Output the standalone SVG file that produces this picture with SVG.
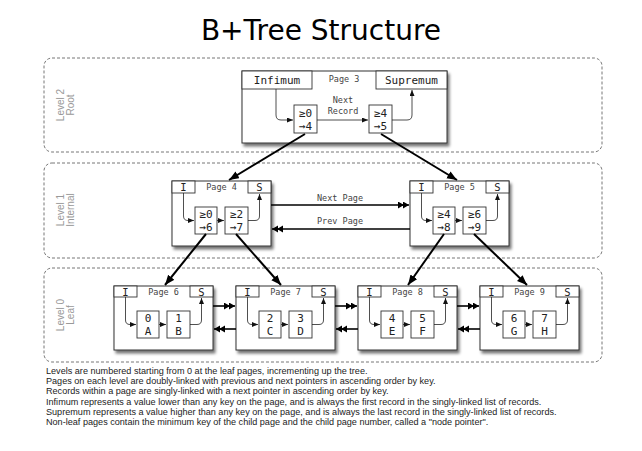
<svg xmlns="http://www.w3.org/2000/svg" width="642" height="451" viewBox="0 0 642 451">
<style>
.lvl{fill:none;stroke:#666;stroke-width:0.9;stroke-dasharray:3,2}
.lvlt{font-family:"Liberation Sans",Arial,sans-serif;font-size:10px;fill:#999;text-anchor:middle}
.pg{fill:#fff;stroke:#333;stroke-width:1}
.cell{fill:#fff;stroke:#333;stroke-width:0.9}
.mono{font-family:"DejaVu Sans Mono","Liberation Mono",monospace;fill:#222;text-anchor:middle}
.hd{font-size:10.5px}
.pt{font-size:8.5px;fill:#444}
.rt{font-size:11px}
.thin{fill:none;stroke:#222;stroke-width:0.8}
.big{fill:none;stroke:#000;stroke-width:2}
.lnk{fill:none;stroke:#000;stroke-width:1.6}
.note{font-family:"Liberation Sans",Arial,sans-serif;font-size:9.1px;fill:#222}
</style>
<defs>
<filter id="sh" x="-10%" y="-10%" width="130%" height="140%">
<feGaussianBlur in="SourceAlpha" stdDeviation="1.6"/>
<feOffset dx="1.5" dy="2.5" result="b"/>
<feComponentTransfer><feFuncA type="linear" slope="0.55"/></feComponentTransfer>
<feMerge><feMergeNode/><feMergeNode in="SourceGraphic"/></feMerge>
</filter>
<marker id="ab" markerUnits="userSpaceOnUse" markerWidth="11" markerHeight="9" refX="10" refY="4" orient="auto"><path d="M0,0 L10,4 L0,8 z" fill="#000"/></marker>
<marker id="as" markerUnits="userSpaceOnUse" markerWidth="7" markerHeight="6" refX="6" refY="2.5" orient="auto"><path d="M0,0 L6,2.5 L0,5 z" fill="#111"/></marker>
<marker id="ad" markerUnits="userSpaceOnUse" markerWidth="12" markerHeight="8" refX="11" refY="3.5" orient="auto"><path d="M0,0 L6,3.5 L0,7 z M5,0 L11,3.5 L5,7 z" fill="#000"/></marker>
</defs>
<rect width="642" height="451" fill="#fff"/>
<text x="321" y="40" font-family="'DejaVu Sans',sans-serif" font-size="28" text-anchor="middle" fill="#000">B+Tree Structure</text>

<g id="level2">
<rect class="lvl" x="44" y="58" width="558" height="94" rx="8"/>
<text class="lvlt" transform="translate(64,105) rotate(-90)"><tspan x="0" y="0">Level 2</tspan><tspan x="0" y="9.5">Root</tspan></text>
</g>
<g id="level1">
<rect class="lvl" x="44" y="163" width="558" height="95" rx="8"/>
<text class="lvlt" transform="translate(64,210) rotate(-90)"><tspan x="0" y="0">Level 1</tspan><tspan x="0" y="9.5">Internal</tspan></text>
</g>
<g id="level0">
<rect class="lvl" x="44" y="268" width="558" height="94" rx="8"/>
<text class="lvlt" transform="translate(64,315) rotate(-90)"><tspan x="0" y="0">Level 0</tspan><tspan x="0" y="9.5">Leaf</tspan></text>
</g>

<g id="page3">
<rect class="pg" x="242" y="71" width="205" height="72" filter="url(#sh)"/>
<rect class="cell" x="242" y="71" width="70" height="18"/>
<rect class="cell" x="376" y="71" width="71" height="18"/>
<text class="mono" x="277" y="84" font-size="11">Infimum</text>
<text class="mono" x="411.5" y="84" font-size="11">Supremum</text>
<text class="mono pt" x="344" y="82">Page 3</text>
<text class="mono pt" x="343" y="103">Next</text>
<text class="mono pt" x="343" y="114">Record</text>
<rect class="cell" x="294" y="105" width="23" height="28"/>
<rect class="cell" x="369" y="105" width="23" height="28"/>
<text class="mono rt" x="305.5" y="117">≥0</text>
<text class="mono rt" x="305.5" y="130">→4</text>
<text class="mono rt" x="380.5" y="117">≥4</text>
<text class="mono rt" x="380.5" y="130">→5</text>
<path class="thin" d="M276,89 V115 Q276,120 281,120 H293" marker-end="url(#as)"/>
<path class="thin" d="M317,120 H368" marker-end="url(#as)"/>
<path class="thin" d="M392,120 H407 Q412,120 412,115 V90" marker-end="url(#as)"/>
</g>

<g id="page4">
<rect class="pg" x="172" y="181" width="99" height="65" filter="url(#sh)"/>
<rect class="cell" x="172" y="181" width="23" height="12"/>
<rect class="cell" x="248" y="181" width="23" height="12"/>
<text class="mono hd" x="183.5" y="191">I</text>
<text class="mono hd" x="259.5" y="191">S</text>
<text class="mono pt" x="221.5" y="190">Page 4</text>
<rect class="cell" x="195" y="207" width="22" height="27"/>
<rect class="cell" x="225" y="207" width="23" height="27"/>
<text class="mono rt" x="206" y="218">≥0</text>
<text class="mono rt" x="206" y="231">→6</text>
<text class="mono rt" x="236.5" y="218">≥2</text>
<text class="mono rt" x="236.5" y="231">→7</text>
<path class="thin" d="M183.5,193 V216 Q183.5,220.5 188,220.5 H194" marker-end="url(#as)"/>
<path class="thin" d="M217,220.5 H224" marker-end="url(#as)"/>
<path class="thin" d="M248,220.5 H255 Q259.5,220.5 259.5,216 V194" marker-end="url(#as)"/>
</g>

<g id="page5">
<rect class="pg" x="410" y="181" width="99" height="65" filter="url(#sh)"/>
<rect class="cell" x="410" y="181" width="23" height="12"/>
<rect class="cell" x="486" y="181" width="23" height="12"/>
<text class="mono hd" x="421.5" y="191">I</text>
<text class="mono hd" x="497.5" y="191">S</text>
<text class="mono pt" x="459.5" y="190">Page 5</text>
<rect class="cell" x="433" y="207" width="22" height="27"/>
<rect class="cell" x="463" y="207" width="23" height="27"/>
<text class="mono rt" x="444" y="218">≥4</text>
<text class="mono rt" x="444" y="231">→8</text>
<text class="mono rt" x="474.5" y="218">≥6</text>
<text class="mono rt" x="474.5" y="231">→9</text>
<path class="thin" d="M421.5,193 V216 Q421.5,220.5 426,220.5 H432" marker-end="url(#as)"/>
<path class="thin" d="M455,220.5 H462" marker-end="url(#as)"/>
<path class="thin" d="M486,220.5 H493 Q497.5,220.5 497.5,216 V194" marker-end="url(#as)"/>
</g>

<g id="page6">
<rect class="pg" x="114" y="286" width="99" height="64" filter="url(#sh)"/>
<rect class="cell" x="114" y="286" width="23" height="11"/>
<rect class="cell" x="190" y="286" width="23" height="11"/>
<text class="mono hd" x="125.5" y="295.5">I</text>
<text class="mono hd" x="201.5" y="295.5">S</text>
<text class="mono pt" x="163.5" y="295">Page 6</text>
<rect class="cell" x="137" y="311" width="22" height="27"/>
<rect class="cell" x="167" y="311" width="23" height="27"/>
<text class="mono rt" x="148" y="322">0</text>
<text class="mono rt" x="148" y="335">A</text>
<text class="mono rt" x="178.5" y="322">1</text>
<text class="mono rt" x="178.5" y="335">B</text>
<path class="thin" d="M125.5,297 V320 Q125.5,324.5 130,324.5 H136" marker-end="url(#as)"/>
<path class="thin" d="M159,324.5 H166" marker-end="url(#as)"/>
<path class="thin" d="M190,324.5 H197 Q201.5,324.5 201.5,320 V298" marker-end="url(#as)"/>
</g>

<g id="page7">
<rect class="pg" x="236" y="286" width="99" height="64" filter="url(#sh)"/>
<rect class="cell" x="236" y="286" width="23" height="11"/>
<rect class="cell" x="312" y="286" width="23" height="11"/>
<text class="mono hd" x="247.5" y="295.5">I</text>
<text class="mono hd" x="323.5" y="295.5">S</text>
<text class="mono pt" x="285.5" y="295">Page 7</text>
<rect class="cell" x="259" y="311" width="22" height="27"/>
<rect class="cell" x="289" y="311" width="23" height="27"/>
<text class="mono rt" x="270" y="322">2</text>
<text class="mono rt" x="270" y="335">C</text>
<text class="mono rt" x="300.5" y="322">3</text>
<text class="mono rt" x="300.5" y="335">D</text>
<path class="thin" d="M247.5,297 V320 Q247.5,324.5 252,324.5 H258" marker-end="url(#as)"/>
<path class="thin" d="M281,324.5 H288" marker-end="url(#as)"/>
<path class="thin" d="M312,324.5 H319 Q323.5,324.5 323.5,320 V298" marker-end="url(#as)"/>
</g>

<g id="page8">
<rect class="pg" x="358" y="286" width="99" height="64" filter="url(#sh)"/>
<rect class="cell" x="358" y="286" width="23" height="11"/>
<rect class="cell" x="434" y="286" width="23" height="11"/>
<text class="mono hd" x="369.5" y="295.5">I</text>
<text class="mono hd" x="445.5" y="295.5">S</text>
<text class="mono pt" x="407.5" y="295">Page 8</text>
<rect class="cell" x="381" y="311" width="22" height="27"/>
<rect class="cell" x="411" y="311" width="23" height="27"/>
<text class="mono rt" x="392" y="322">4</text>
<text class="mono rt" x="392" y="335">E</text>
<text class="mono rt" x="422.5" y="322">5</text>
<text class="mono rt" x="422.5" y="335">F</text>
<path class="thin" d="M369.5,297 V320 Q369.5,324.5 374,324.5 H380" marker-end="url(#as)"/>
<path class="thin" d="M403,324.5 H410" marker-end="url(#as)"/>
<path class="thin" d="M434,324.5 H441 Q445.5,324.5 445.5,320 V298" marker-end="url(#as)"/>
</g>

<g id="page9">
<rect class="pg" x="480" y="286" width="99" height="64" filter="url(#sh)"/>
<rect class="cell" x="480" y="286" width="23" height="11"/>
<rect class="cell" x="556" y="286" width="23" height="11"/>
<text class="mono hd" x="491.5" y="295.5">I</text>
<text class="mono hd" x="567.5" y="295.5">S</text>
<text class="mono pt" x="529.5" y="295">Page 9</text>
<rect class="cell" x="503" y="311" width="22" height="27"/>
<rect class="cell" x="533" y="311" width="23" height="27"/>
<text class="mono rt" x="514" y="322">6</text>
<text class="mono rt" x="514" y="335">G</text>
<text class="mono rt" x="544.5" y="322">7</text>
<text class="mono rt" x="544.5" y="335">H</text>
<path class="thin" d="M491.5,297 V320 Q491.5,324.5 496,324.5 H502" marker-end="url(#as)"/>
<path class="thin" d="M525,324.5 H532" marker-end="url(#as)"/>
<path class="thin" d="M556,324.5 H563 Q567.5,324.5 567.5,320 V298" marker-end="url(#as)"/>
</g>

<g id="connectors">
<line class="big" x1="305" y1="134" x2="229" y2="180" marker-end="url(#ab)"/>
<line class="big" x1="381" y1="134" x2="457" y2="180" marker-end="url(#ab)"/>
<line class="big" x1="206" y1="234" x2="165" y2="285" marker-end="url(#ab)"/>
<line class="big" x1="236" y1="234" x2="281" y2="285" marker-end="url(#ab)"/>
<line class="big" x1="444" y1="234" x2="408" y2="285" marker-end="url(#ab)"/>
<line class="big" x1="474" y1="234" x2="527" y2="285" marker-end="url(#ab)"/>
<line class="lnk" x1="271" y1="205" x2="409" y2="205" marker-end="url(#ad)"/>
<line class="lnk" x1="410" y1="229" x2="272" y2="229" marker-end="url(#ad)"/>
<text class="mono pt" x="340" y="201">Next Page</text>
<text class="mono pt" x="340" y="224">Prev Page</text>
<line class="lnk" x1="213" y1="306" x2="235" y2="306" marker-end="url(#ad)"/>
<line class="lnk" x1="236" y1="329" x2="214" y2="329" marker-end="url(#ad)"/>
<line class="lnk" x1="335" y1="306" x2="357" y2="306" marker-end="url(#ad)"/>
<line class="lnk" x1="358" y1="329" x2="336" y2="329" marker-end="url(#ad)"/>
<line class="lnk" x1="457" y1="306" x2="479" y2="306" marker-end="url(#ad)"/>
<line class="lnk" x1="480" y1="329" x2="458" y2="329" marker-end="url(#ad)"/>
</g>

<g id="notes">
<text class="note" x="46" y="374">Levels are numbered starting from 0 at the leaf pages, incrementing up the tree.</text>
<text class="note" x="46" y="384.2">Pages on each level are doubly-linked with previous and next pointers in ascending order by key.</text>
<text class="note" x="46" y="394.4">Records within a page are singly-linked with a next pointer in ascending order by key.</text>
<text class="note" x="46" y="404.6">Infimum represents a value lower than any key on the page, and is always the first record in the singly-linked list of records.</text>
<text class="note" x="46" y="414.8">Supremum represents a value higher than any key on the page, and is always the last record in the singly-linked list of records.</text>
<text class="note" x="46" y="425">Non-leaf pages contain the minimum key of the child page and the child page number, called a "node pointer".</text>
</g>
</svg>
